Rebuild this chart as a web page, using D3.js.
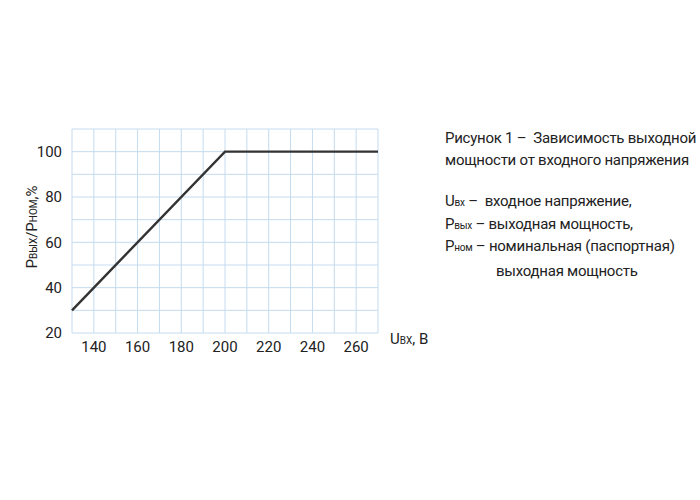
<!DOCTYPE html>
<html>
<head>
<meta charset="utf-8">
<script src="https://cdn.jsdelivr.net/npm/d3@7"></script>
<style>
  body { margin: 0; background: #fff; }
  svg { display: block; }
  text { white-space: pre; }
</style>
</head>
<body>
<svg id="chart"></svg>
<script>
// Input voltage (V) vs output/nominal power (%)
const voltage = [130, 200, 270];
const powerPct = [30, 100, 100];
const xTicks = [140, 160, 180, 200, 220, 240, 260];
const yTicks = [20, 40, 60, 80, 100];
const gridX = d3.range(130, 271, 10);
const gridY = d3.range(20, 111, 10);

const width = 700;
const height = 500;
const margin = { top: 129, right: 322, bottom: 167, left: 72 };
const font = "'Liberation Sans Narrow', 'Roboto', 'Liberation Sans', sans-serif";

const svg = d3.select("#chart")
  .attr("width", width)
  .attr("height", height);

const x = d3.scaleLinear()
  .domain([130, 270])
  .range([margin.left, width - margin.right]);

const y = d3.scaleLinear()
  .domain([20, 110])
  .range([height - margin.bottom, margin.top]);

// Grid
svg.append("g")
  .selectAll("line")
  .data(gridX)
  .enter()
  .append("line")
  .attr("x1", d => x(d))
  .attr("x2", d => x(d))
  .attr("y1", y(20))
  .attr("y2", y(110))
  .attr("stroke", "#c4dbef")
  .attr("stroke-width", 1);

svg.append("g")
  .selectAll("line")
  .data(gridY)
  .enter()
  .append("line")
  .attr("x1", x(130))
  .attr("x2", x(270))
  .attr("y1", d => y(d))
  .attr("y2", d => y(d))
  .attr("stroke", "#c4dbef")
  .attr("stroke-width", 1);

// Tick labels
svg.append("g")
  .selectAll("text")
  .data(yTicks)
  .enter()
  .append("text")
  .attr("x", margin.left - 10)
  .attr("y", d => y(d))
  .attr("dy", "0.35em")
  .attr("text-anchor", "end")
  .attr("font-family", font)
  .attr("font-size", "15px")
  .attr("fill", "#222")
  .text(d => d);

svg.append("g")
  .selectAll("text")
  .data(xTicks)
  .enter()
  .append("text")
  .attr("x", d => x(d))
  .attr("y", y(20) + 19)
  .attr("text-anchor", "middle")
  .attr("font-family", font)
  .attr("font-size", "15px")
  .attr("fill", "#222")
  .text(d => d);

// Data line
const line = d3.line()
  .x((d, i) => x(voltage[i]))
  .y(d => y(d));

svg.append("path")
  .datum(powerPct)
  .attr("d", line)
  .attr("fill", "none")
  .attr("stroke", "#333")
  .attr("stroke-width", 2.4);

// Axis titles
const yTitle = svg.append("text")
  .attr("transform", "translate(37, 227) rotate(-90)")
  .attr("text-anchor", "middle")
  .attr("font-family", font)
  .attr("font-size", "15px")
  .attr("fill", "#222");
yTitle.append("tspan").text("P");
yTitle.append("tspan").attr("font-size", "10px").text("ВЫХ");
yTitle.append("tspan").text("/P");
yTitle.append("tspan").attr("font-size", "10px").text("НОМ");
yTitle.append("tspan").text(",%");

const xTitle = svg.append("text")
  .attr("x", 390)
  .attr("y", 344)
  .attr("font-family", font)
  .attr("font-size", "15px")
  .attr("fill", "#222");
xTitle.append("tspan").text("U");
xTitle.append("tspan").attr("font-size", "10px").text("ВХ");
xTitle.append("tspan").text(", В");

// Caption on the right
const caption = svg.append("g")
  .attr("font-family", font)
  .attr("font-size", "15px")
  .attr("letter-spacing", "-0.25px")
  .attr("fill", "#222");

caption.append("text").attr("x", 445).attr("y", 143)
  .text("Рисунок 1 –  Зависимость выходной");
caption.append("text").attr("x", 445).attr("y", 165)
  .text("мощности от входного напряжения");

const notes = [
  { sym: "U", sub: "вх", text: " –  входное напряжение," },
  { sym: "P", sub: "вых", text: " – выходная мощность," },
  { sym: "P", sub: "ном", text: " – номинальная (паспортная)" }
];
notes.forEach((n, i) => {
  const t = caption.append("text").attr("x", 445).attr("y", 206 + i * 22.5);
  t.append("tspan").text(n.sym);
  t.append("tspan").attr("font-size", "10px").text(n.sub);
  t.append("tspan").text(n.text);
});
caption.append("text").attr("x", 496).attr("y", 276)
  .text("выходная мощность");
</script>
</body>
</html>
